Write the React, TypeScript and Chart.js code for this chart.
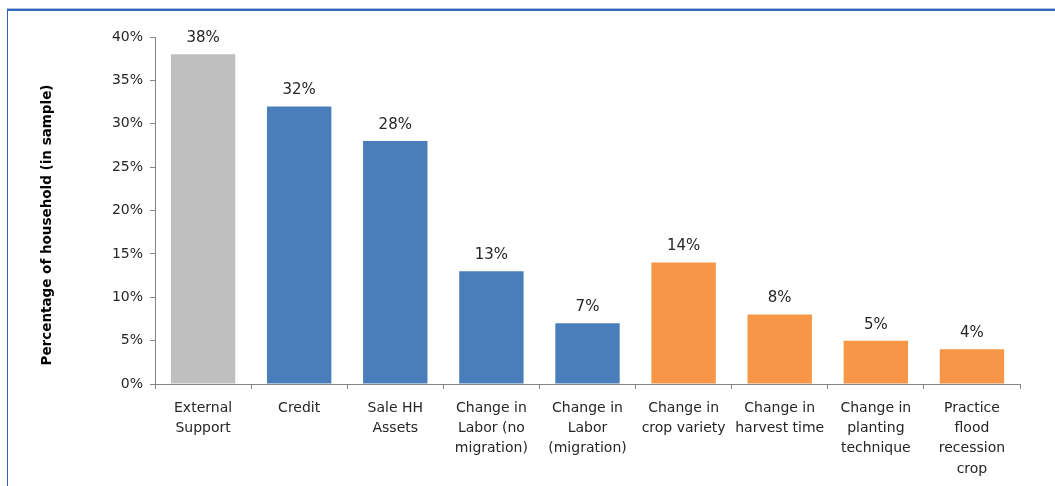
import React, { useEffect, useRef } from "react";
import { Chart, registerables } from "chart.js";

Chart.register(...registerables);

const categories: string[][] = [
  ["External", "Support"],
  ["Credit"],
  ["Sale HH", "Assets"],
  ["Change in", "Labor (no", "migration)"],
  ["Change in", "Labor", "(migration)"],
  ["Change in", "crop variety"],
  ["Change in", "harvest time"],
  ["Change in", "planting", "technique"],
  ["Practice", "flood", "recession", "crop"],
];
const values: number[] = [38, 32, 28, 13, 7, 14, 8, 5, 4];
const barColors: string[] = [
  "#BFBFBF",
  "#4A7EBB",
  "#4A7EBB",
  "#4A7EBB",
  "#4A7EBB",
  "#F79646",
  "#F79646",
  "#F79646",
  "#F79646",
];
const yTitle = "Percentage of household (in sample)";
const yMin = 0;
const yMax = 40;
const yStep = 5;

const FONT = "'DejaVu Sans', sans-serif";

const framePlugin = {
  id: "frame",
  beforeDraw(chart: any) {
    const ctx = chart.ctx;
    ctx.save();
    ctx.fillStyle = "#A9C1E4";
    ctx.fillRect(7, 8, chart.width - 7, 1);
    ctx.fillStyle = "#2F67B6";
    ctx.fillRect(7, 9, chart.width - 7, 2);
    ctx.fillRect(7, 9, 1, chart.height - 9);
    ctx.restore();
  },
  afterDraw(chart: any) {
    const ctx = chart.ctx;
    ctx.save();
    ctx.translate(47, 225);
    ctx.rotate(-Math.PI / 2);
    ctx.font = `bold 13.5px ${FONT}`;
    ctx.fillStyle = "#000";
    ctx.textAlign = "center";
    ctx.textBaseline = "middle";
    ctx.fillText(yTitle, 0, 0);
    ctx.restore();

    const meta = chart.getDatasetMeta(0);
    ctx.save();
    ctx.font = `15px ${FONT}`;
    ctx.fillStyle = "#262626";
    ctx.textAlign = "center";
    ctx.textBaseline = "middle";
    meta.data.forEach((bar: any, i: number) => {
      ctx.fillText(`${values[i]}%`, bar.x, bar.y - 16);
    });
    ctx.restore();
  },
};

export default function App() {
  const ref = useRef<HTMLCanvasElement | null>(null);
  useEffect(() => {
    document.body.style.margin = "0";
    const chart = new Chart(ref.current as HTMLCanvasElement, {
      type: "bar",
      data: {
        labels: categories,
        datasets: [
          {
            data: values,
            backgroundColor: barColors,
            borderWidth: 0,
            barPercentage: 0.67,
            categoryPercentage: 1,
          },
        ],
      },
      options: {
        animation: false,
        responsive: false,
        maintainAspectRatio: false,
        layout: { padding: { left: 0, right: 35, top: 37, bottom: 0 } },
        plugins: {
          legend: { display: false },
          tooltip: { enabled: false },
        },
        scales: {
          x: {
            offset: true,
            grid: {
              offset: true,
              drawOnChartArea: false,
              drawTicks: true,
              tickLength: 5,
              color: "#868686",
            },
            border: { color: "#868686", width: 1 },
            ticks: {
              color: "#262626",
              font: { family: FONT, size: 14, lineHeight: 1.45 },
              padding: 9,
              maxRotation: 0,
              autoSkip: false,
            },
            afterFit(scale: any) {
              scale.height = 102;
            },
          },
          y: {
            min: yMin,
            max: yMax,
            grid: {
              drawOnChartArea: false,
              drawTicks: true,
              tickLength: 5,
              color: "#868686",
            },
            border: { color: "#868686", width: 1 },
            ticks: {
              stepSize: yStep,
              color: "#262626",
              font: { family: FONT, size: 14 },
              padding: 7,
              callback: (v: any) => `${v}%`,
            },
            afterFit(scale: any) {
              scale.width = 155;
            },
          },
        },
      },
      plugins: [framePlugin],
    });
    return () => chart.destroy();
  }, []);
  return <canvas ref={ref} width={1055} height={486} style={{ display: "block" }} />;
}
